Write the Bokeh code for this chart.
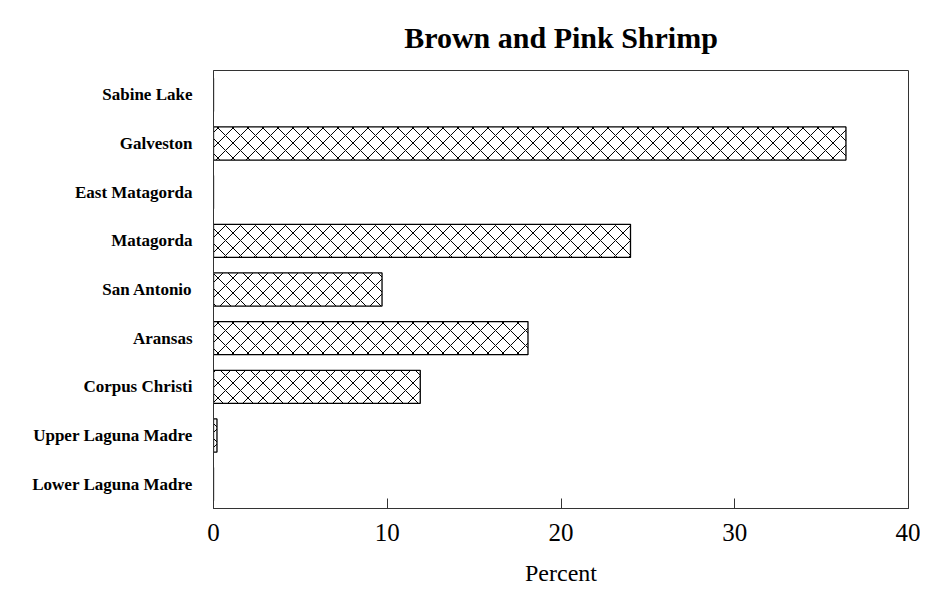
from bokeh.plotting import figure
from bokeh.models import FixedTicker
from bokeh.embed import file_html
from bokeh.resources import INLINE

bays = ["Sabine Lake", "Galveston", "East Matagorda", "Matagorda", "San Antonio",
        "Aransas", "Corpus Christi", "Upper Laguna Madre", "Lower Laguna Madre"]
percent = [0.0, 36.4, 0.0, 24.0, 9.7, 18.1, 11.9, 0.2, 0.0]
x_ticks = [0, 10, 20, 30, 40]

p = figure(width=920, height=590, y_range=list(reversed(bays)), x_range=(0, 40),
           output_backend="svg", toolbar_location=None,
           title="Brown and Pink Shrimp",
           min_border_left=213, min_border_right=12, min_border_top=70, min_border_bottom=82)

p.hbar(y=bays, right=percent, left=0, height=0.68, fill_color="white",
       line_color="black", line_width=1.3,
       hatch_pattern="x", hatch_color="black", hatch_scale=15, hatch_weight=1)

p.title.align = "center"
p.title.text_font = "Liberation Serif"
p.title.text_font_size = "30px"
p.title.text_font_style = "bold"
p.title.text_color = "black"
p.title.standoff = 34
p.title.offset = 8

p.xgrid.visible = False
p.ygrid.visible = False
p.outline_line_color = "#333333"
p.outline_line_width = 1

p.xaxis.ticker = FixedTicker(ticks=x_ticks)
p.xaxis.axis_label = "Percent"
p.xaxis.axis_label_text_font = "Liberation Serif"
p.xaxis.axis_label_text_font_size = "24px"
p.xaxis.axis_label_text_font_style = "normal"
p.xaxis.axis_label_text_color = "black"
p.xaxis.major_label_text_font = "Liberation Serif"
p.xaxis.major_label_text_font_size = "25px"
p.xaxis.major_label_text_color = "black"
p.xaxis.major_label_standoff = 15
p.xaxis.major_tick_in = 10
p.xaxis.major_tick_out = 0
p.xaxis.major_tick_line_color = "#333333"
p.xaxis.minor_tick_line_color = None
p.xaxis.axis_line_color = "#333333"
p.xaxis.axis_label_standoff = 16

p.yaxis.major_label_text_font = "Liberation Serif"
p.yaxis.major_label_text_font_size = "17px"
p.yaxis.major_label_text_font_style = "bold"
p.yaxis.major_label_text_color = "black"
p.yaxis.major_tick_line_color = None
p.yaxis.major_label_standoff = 15
p.yaxis.axis_line_color = "#333333"

open("out.html", "w").write(file_html(p, INLINE))
